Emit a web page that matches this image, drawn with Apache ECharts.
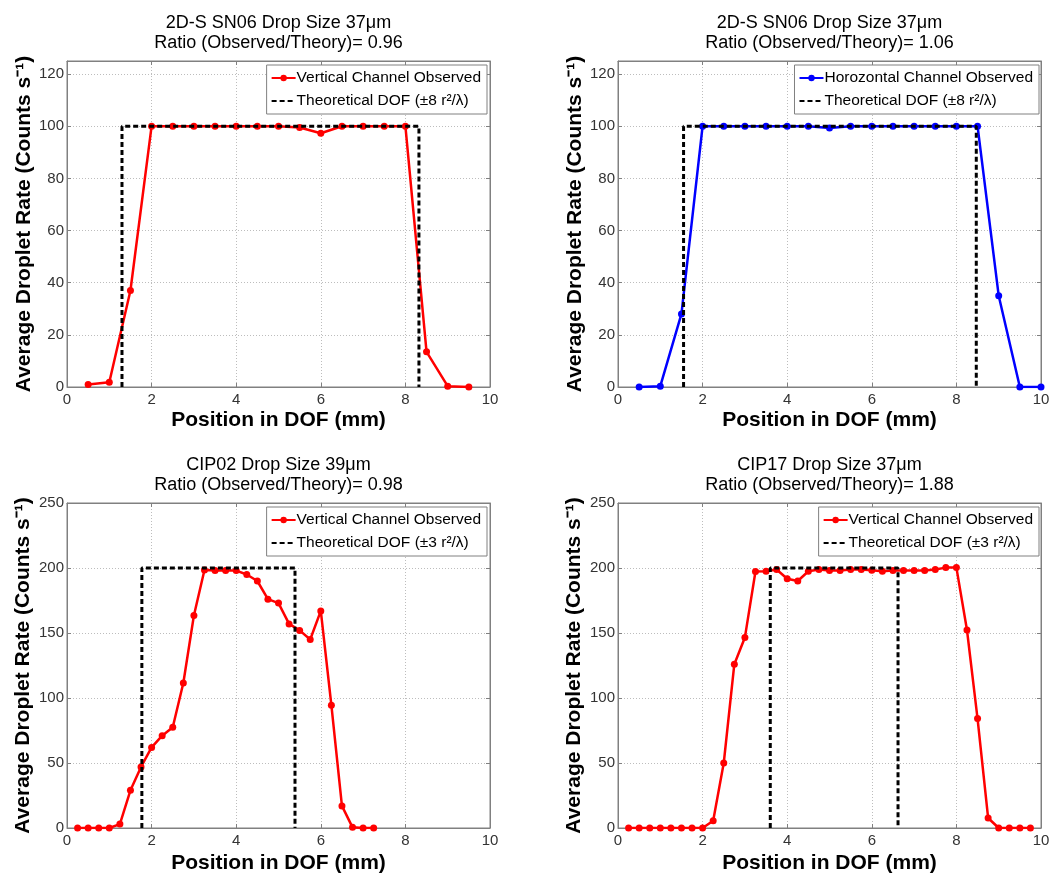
<!DOCTYPE html>
<html><head><meta charset="utf-8">
<script src="https://cdn.jsdelivr.net/npm/echarts@6/dist/echarts.min.js"></script>
<style>html,body{margin:0;padding:0;background:#fff}#c{width:1054px;height:875px}</style>
</head><body><div id="c"></div>
<script>
const FONT = '"Liberation Sans", Arial, Helvetica, sans-serif';

// ---- text ----
const titleLines = [
  ['2D-S SN06 Drop Size 37μm', 'Ratio (Observed/Theory)= 0.96'],
  ['2D-S SN06 Drop Size 37μm', 'Ratio (Observed/Theory)= 1.06'],
  ['CIP02 Drop Size 39μm', 'Ratio (Observed/Theory)= 0.98'],
  ['CIP17 Drop Size 37μm', 'Ratio (Observed/Theory)= 1.88']
];
const observedNames = ['Vertical Channel Observed', 'Horozontal Channel Observed', 'Vertical Channel Observed', 'Vertical Channel Observed'];
const theoryNames = ['Theoretical DOF (±8 r²/λ)', 'Theoretical DOF (±8 r²/λ)', 'Theoretical DOF (±3 r²/λ)', 'Theoretical DOF (±3 r²/λ)'];
const observedColors = ['#ff0000', '#0000ff', '#ff0000', '#ff0000'];
const xAxisName = 'Position in DOF (mm)';
const yAxisName = 'Average Droplet Rate (Counts s⁻¹)';

// ---- axis ticks ----
const xTicks = [0, 2, 4, 6, 8, 10];
const yTicksTop = [0, 20, 40, 60, 80, 100, 120];
const yMaxTop = 125;
const yTicksBottom = [0, 50, 100, 150, 200, 250];
const yMaxBottom = 250;

// ---- panel 1: 2D-S vertical ----
const p1X = [0.5, 1, 1.5, 2, 2.5, 3, 3.5, 4, 4.5, 5, 5.5, 6, 6.5, 7, 7.5, 8, 8.5, 9, 9.5];
const p1Y = [1, 1.8, 37, 100, 100, 100, 100, 100, 100, 100, 99.5, 97.3, 100, 100, 100, 100, 13.5, 0.3, 0];
const p1Dof = [1.3, 8.32];
const p1DofTop = 100;

// ---- panel 2: 2D-S horizontal ----
const p2X = [0.5, 1, 1.5, 2, 2.5, 3, 3.5, 4, 4.5, 5, 5.5, 6, 6.5, 7, 7.5, 8, 8.5, 9, 9.5, 10];
const p2Y = [0, 0.3, 28, 100, 100, 100, 100, 100, 100, 99.3, 100, 100, 100, 100, 100, 100, 100, 35, 0, 0];
const p2Dof = [1.55, 8.47];
const p2DofTop = 100;

// ---- panel 3: CIP02 ----
const p3X = [0.25, 0.5, 0.75, 1, 1.25, 1.5, 1.75, 2, 2.25, 2.5, 2.75, 3, 3.25, 3.5, 3.75, 4, 4.25, 4.5, 4.75, 5, 5.25, 5.5, 5.75, 6, 6.25, 6.5, 6.75, 7, 7.25];
const p3Y = [0, 0, 0, 0, 3, 29, 47, 62, 71, 77.5, 111.5, 163.5, 198.5, 198, 198, 198, 195, 190, 176, 173, 157, 152, 145, 167, 94.5, 17, 0.5, 0, 0];
const p3Dof = [1.77, 5.39];
const p3DofTop = 200;

// ---- panel 4: CIP17 ----
const p4X = [0.25, 0.5, 0.75, 1, 1.25, 1.5, 1.75, 2, 2.25, 2.5, 2.75, 3, 3.25, 3.5, 3.75, 4, 4.25, 4.5, 4.75, 5, 5.25, 5.5, 5.75, 6, 6.25, 6.5, 6.75, 7, 7.25, 7.5, 7.75, 8, 8.25, 8.5, 8.75, 9, 9.25, 9.5, 9.75];
const p4Y = [0, 0, 0, 0, 0, 0, 0, 0, 5.6, 50, 126, 146.6, 197.3, 197.5, 198.8, 191.7, 190, 197.5, 198.8, 198, 198, 198.8, 198.8, 198.3, 197.5, 198, 198, 198, 198, 198.8, 200.3, 200.3, 152.3, 84.2, 7.7, 0, 0, 0, 0];
const p4Dof = [3.6, 6.62];
const p4DofTop = 200;

const panels = [
  { x: p1X, y: p1Y, dof: p1Dof, top: p1DofTop, yTicks: yTicksTop, yMax: yMaxTop },
  { x: p2X, y: p2Y, dof: p2Dof, top: p2DofTop, yTicks: yTicksTop, yMax: yMaxTop },
  { x: p3X, y: p3Y, dof: p3Dof, top: p3DofTop, yTicks: yTicksBottom, yMax: yMaxBottom },
  { x: p4X, y: p4Y, dof: p4Dof, top: p4DofTop, yTicks: yTicksBottom, yMax: yMaxBottom }
];

// ---- layout ----
const gridBoxes = [
  { left: 67, top: 61, width: 423, height: 326 },
  { left: 618, top: 61, width: 423, height: 326 },
  { left: 67, top: 503, width: 423, height: 326 },
  { left: 618, top: 503, width: 423, height: 326 }
];
const legendPos = [
  { right: 567, top: 65 },
  { right: 15, top: 65 },
  { right: 567, top: 507 },
  { right: 15, top: 507 }
];
const yNameGap = [28, 28, 33, 33];
const xNameGap = [23, 23, 25, 25];

const AX = '#808080';
const option = {
  backgroundColor: '#fff',
  animation: false,
  textStyle: { fontFamily: FONT },
  title: [], grid: [], xAxis: [], yAxis: [], legend: [], series: []
};

gridBoxes.forEach((g, i) => {
  const p = panels[i];
  option.grid.push(Object.assign({ show: true, borderColor: AX, borderWidth: 1, backgroundColor: '#fff' }, g));
  option.title.push({
    text: titleLines[i].join('\n'),
    left: g.left + g.width / 2,
    top: g.top - 48,
    padding: 0,
    textAlign: 'center',
    textStyle: { fontSize: 18, fontWeight: 'normal', color: '#000', lineHeight: 20, fontFamily: FONT }
  });
  option.xAxis.push({
    gridIndex: i, type: 'value', position: 'bottom',
    min: xTicks[0], max: xTicks[xTicks.length - 1], interval: xTicks[1] - xTicks[0],
    axisLine: { show: true, onZero: false, lineStyle: { color: AX, width: 1 } },
    axisTick: { show: true, inside: true, length: 4, lineStyle: { color: AX } },
    axisLabel: { fontSize: 15, color: '#333', margin: 5, fontFamily: FONT },
    splitLine: { show: true, lineStyle: { type: [1, 2], color: '#bdbdbd', width: 1 } },
    name: xAxisName, nameLocation: 'middle', nameGap: xNameGap[i],
    nameTextStyle: { fontSize: 21, fontWeight: 'bold', color: '#000', fontFamily: FONT }
  });
  option.yAxis.push({
    gridIndex: i, type: 'value', position: 'left',
    min: p.yTicks[0], max: p.yMax, interval: p.yTicks[1] - p.yTicks[0],
    axisLine: { show: true, onZero: false, lineStyle: { color: AX, width: 1 } },
    axisTick: { show: true, inside: true, length: 4, lineStyle: { color: AX } },
    axisLabel: { fontSize: 15, color: '#333', margin: 3, showMaxLabel: p.yMax === p.yTicks[p.yTicks.length - 1], fontFamily: FONT },
    splitLine: { show: true, lineStyle: { type: [1, 2], color: '#bdbdbd', width: 1 } },
    name: yAxisName, nameLocation: 'middle', nameGap: yNameGap[i],
    nameTextStyle: { fontSize: 21, fontWeight: 'bold', color: '#000', fontFamily: FONT }
  });
  option.legend.push(Object.assign({
    orient: 'vertical', selectedMode: false,
    data: [
      { name: observedNames[i] },
      { name: theoryNames[i], itemStyle: { color: 'rgba(0,0,0,0)', borderWidth: 0, opacity: 0 } }
    ],
    itemWidth: 24, itemHeight: 8, itemGap: 5,
    padding: [4, 6, 4, 4],
    backgroundColor: '#fff', borderColor: AX, borderWidth: 1,
    textStyle: { fontSize: 15.5, color: '#000', lineHeight: 18, fontFamily: FONT, padding: [0, 0, 0, -4] }
  }, legendPos[i]));
});

// mirrored top/right axes for ticks only
gridBoxes.forEach((g, i) => {
  const p = panels[i];
  option.xAxis.push({
    gridIndex: i, type: 'value', position: 'top',
    min: xTicks[0], max: xTicks[xTicks.length - 1], interval: xTicks[1] - xTicks[0],
    axisLine: { show: true, onZero: false, lineStyle: { color: AX } },
    axisTick: { show: true, inside: true, length: 4, lineStyle: { color: AX } },
    axisLabel: { show: false }, splitLine: { show: false }
  });
  option.yAxis.push({
    gridIndex: i, type: 'value', position: 'right',
    min: p.yTicks[0], max: p.yMax, interval: p.yTicks[1] - p.yTicks[0],
    axisLine: { show: true, onZero: false, lineStyle: { color: AX } },
    axisTick: { show: true, inside: true, length: 4, lineStyle: { color: AX } },
    axisLabel: { show: false }, splitLine: { show: false }
  });
});

panels.forEach((p, i) => {
  option.series.push({
    type: 'line', name: observedNames[i], xAxisIndex: i, yAxisIndex: i,
    data: p.x.map((x, k) => [x, p.y[k]]),
    symbol: 'circle', symbolSize: 7, showSymbol: true,
    lineStyle: { color: observedColors[i], width: 2.5 },
    itemStyle: { color: observedColors[i] },
    z: 3
  });
  option.series.push({
    type: 'line', name: theoryNames[i], xAxisIndex: i, yAxisIndex: i,
    data: [[p.dof[0], 0], [p.dof[0], p.top], [p.dof[1], p.top], [p.dof[1], 0]],
    symbol: 'none', showSymbol: false,
    lineStyle: { color: '#000', width: 3, type: [5, 3] },
    itemStyle: { color: '#000' },
    z: 4
  });
});

const chart = echarts.init(document.getElementById('c'), null, { renderer: 'canvas' });
chart.setOption(option);
</script>
</body></html>
